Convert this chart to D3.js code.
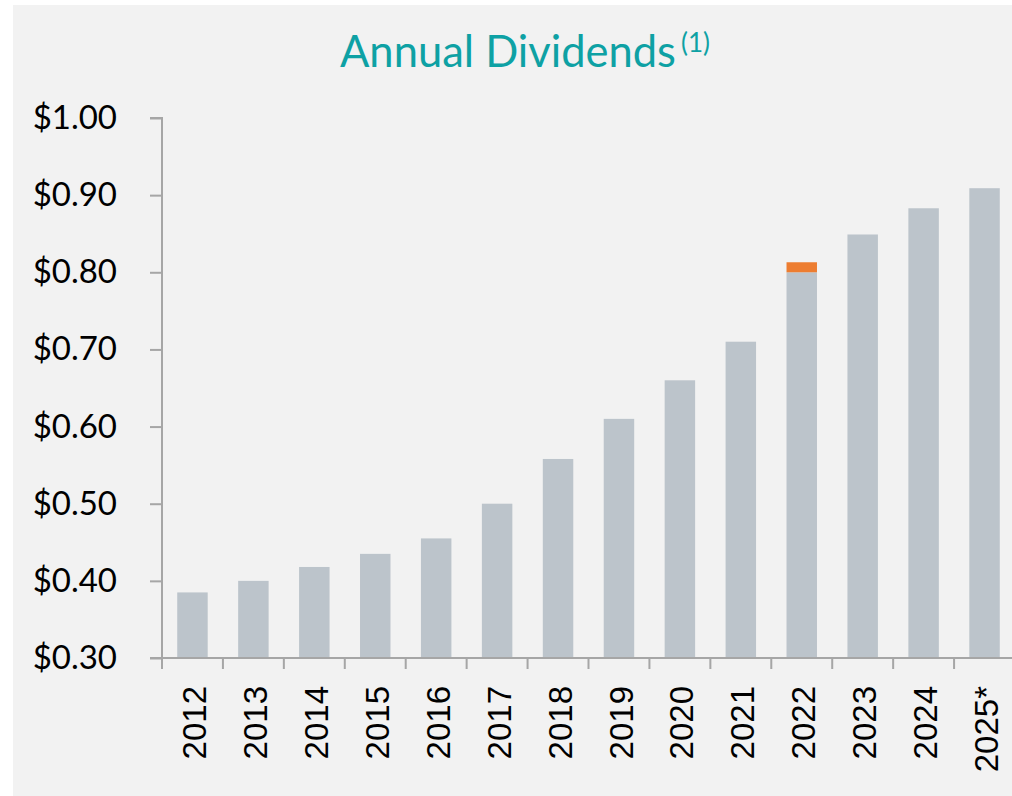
<!DOCTYPE html>
<html>
<head>
<meta charset="utf-8">
<script src="https://cdn.jsdelivr.net/npm/d3@7"></script>
<style>
  html, body { margin: 0; padding: 0; background: #ffffff; }
  svg { display: block; }
</style>
</head>
<body>
<div id="chart"></div>
<script>
const width = 1012;
const height = 796;

// data
const years = ["2012", "2013", "2014", "2015", "2016", "2017", "2018", "2019", "2020", "2021", "2022", "2023", "2024", "2025*"];
const regular = [0.385, 0.400, 0.418, 0.435, 0.455, 0.500, 0.558, 0.610, 0.660, 0.710, 0.800, 0.849, 0.883, 0.909];
const special = [0, 0, 0, 0, 0, 0, 0, 0, 0, 0, 0.013, 0, 0, 0];
const yTicks = [0.30, 0.40, 0.50, 0.60, 0.70, 0.80, 0.90, 1.00];

const axisColor = "#a6a6a6";
const barColor = "#bcc4cb";
const specialColor = "#ed7d31";
const titleColor = "#0ea1a4";

const svg = d3.select("#chart").append("svg")
    .attr("width", width)
    .attr("height", height);

// panel background
svg.append("rect")
    .attr("x", 13).attr("y", 5)
    .attr("width", width - 13).attr("height", height - 5)
    .attr("fill", "#f2f2f2");

const x = d3.scaleBand()
    .domain(years)
    .range([162, 1015])
    .paddingInner(0.5)
    .paddingOuter(0.25);

const y = d3.scaleLinear()
    .domain([0.30, 1.00])
    .range([658, 118]);

// title, footnote marker placed right after it
const title = svg.append("text")
    .attr("x", 340)
    .attr("y", 67)
    .attr("fill", titleColor)
    .style("font-family", "Lato, 'Open Sans', sans-serif")
    .style("font-size", "43.5px")
    .text("Annual Dividends");
const titleEnd = 340 + title.node().getComputedTextLength();
svg.append("text")
    .attr("x", titleEnd + 5)
    .attr("y", 52)
    .attr("fill", titleColor)
    .style("font-family", "Lato, 'Open Sans', sans-serif")
    .style("font-size", "26px")
    .text("(1)");

// bars
const bars = svg.append("g");
bars.selectAll("rect.regular")
    .data(years)
    .join("rect")
    .attr("class", "regular")
    .attr("x", d => x(d))
    .attr("width", x.bandwidth())
    .attr("y", (d, i) => y(regular[i]))
    .attr("height", (d, i) => y(0.30) - y(regular[i]))
    .attr("fill", barColor);

bars.selectAll("rect.special")
    .data(years.filter((d, i) => special[i] > 0))
    .join("rect")
    .attr("class", "special")
    .attr("x", d => x(d))
    .attr("width", x.bandwidth())
    .attr("y", d => { const i = years.indexOf(d); return y(regular[i] + special[i]); })
    .attr("height", d => { const i = years.indexOf(d); return y(regular[i]) - y(regular[i] + special[i]); })
    .attr("fill", specialColor);

// y axis
const yAxis = svg.append("g")
    .attr("transform", "translate(162,0)")
    .call(d3.axisLeft(y).tickValues(yTicks).tickSize(12).tickPadding(33)
        .tickFormat(d => "$" + d3.format(".2f")(d)));
yAxis.select(".domain").attr("stroke", axisColor).attr("stroke-width", 2)
    .attr("d", `M-12,${y(1.0)}H0V${y(0.3)}`);
yAxis.selectAll(".tick line").attr("stroke", axisColor).attr("stroke-width", 2);
yAxis.selectAll(".tick text")
    .attr("fill", "#000")
    .style("font-family", "Lato, 'Open Sans', sans-serif")
    .style("font-size", "33px");

// x axis
const xAxis = svg.append("g").attr("transform", `translate(0,${y(0.30)})`);
xAxis.append("line")
    .attr("x1", 150).attr("x2", width)
    .attr("stroke", axisColor).attr("stroke-width", 2);
xAxis.selectAll("line.tick")
    .data(d3.range(years.length + 1))
    .join("line")
    .attr("class", "tick")
    .attr("x1", i => 162 + i * x.step())
    .attr("x2", i => 162 + i * x.step())
    .attr("y1", 0).attr("y2", 11)
    .attr("stroke", axisColor).attr("stroke-width", 2);
xAxis.selectAll("text.label")
    .data(years)
    .join("text")
    .attr("class", "label")
    .attr("transform", d => `translate(${x(d) + x.bandwidth() / 2 + 2},28) rotate(-90)`)
    .attr("text-anchor", "end")
    .attr("dy", "0.35em")
    .attr("fill", "#000")
    .style("font-family", "'Liberation Sans', Arial, sans-serif")
    .style("font-size", "33px")
    .text(d => d);
</script>
</body>
</html>
